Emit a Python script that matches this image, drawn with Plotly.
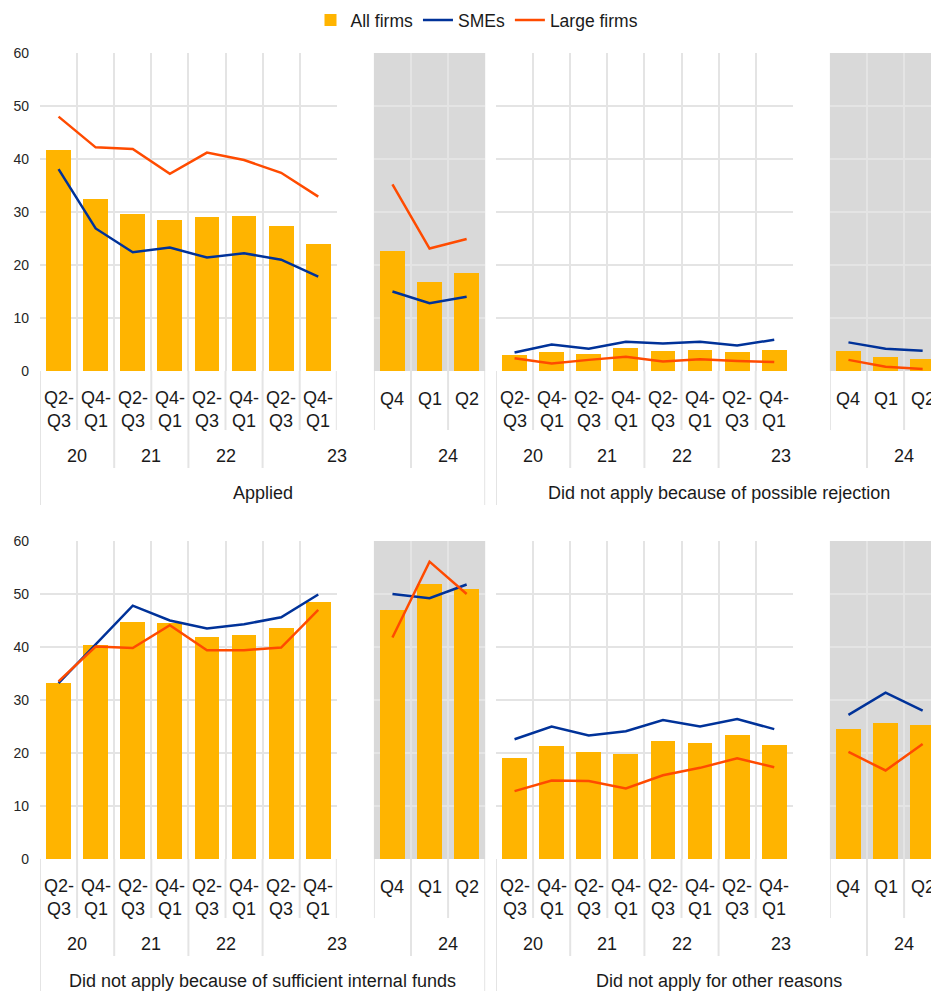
import plotly.graph_objects as go

# ---------------- data ----------------
quarters_left = ["Q2-<br>Q3", "Q4-<br>Q1", "Q2-<br>Q3", "Q4-<br>Q1",
                 "Q2-<br>Q3", "Q4-<br>Q1", "Q2-<br>Q3", "Q4-<br>Q1"]
quarters_right = ["Q4", "Q1", "Q2"]
years_left = ["20", "21", "22", "23"]
year_right = "24"
panel_titles = ["Applied", "Did not apply because of possible rejection",
                "Did not apply because of sufficient internal funds",
                "Did not apply for other reasons"]
series_names = ["All firms", "SMEs", "Large firms"]

applied_all_left = [41.7, 32.4, 29.6, 28.5, 29.0, 29.2, 27.3, 24.0]
applied_all_right = [22.7, 16.8, 18.5]
applied_sme_left = [38.1, 26.9, 22.4, 23.3, 21.4, 22.2, 21.0, 17.8]
applied_sme_right = [15.0, 12.8, 14.0]
applied_large_left = [48.0, 42.2, 41.9, 37.2, 41.2, 39.8, 37.4, 32.9]
applied_large_right = [35.2, 23.1, 24.9]

reject_all_left = [3.0, 3.5, 3.3, 4.3, 3.7, 4.0, 3.5, 4.0]
reject_all_right = [3.8, 2.7, 2.2]
reject_sme_left = [3.5, 5.0, 4.2, 5.5, 5.2, 5.5, 4.8, 5.9]
reject_sme_right = [5.4, 4.2, 3.8]
reject_large_left = [2.4, 1.4, 2.1, 2.7, 1.8, 2.2, 1.9, 1.7]
reject_large_right = [2.1, 0.8, 0.4]

funds_all_left = [33.3, 40.4, 44.8, 44.5, 41.8, 42.3, 43.5, 48.4]
funds_all_right = [46.9, 51.8, 51.0]
funds_sme_left = [33.2, 40.6, 47.8, 45.0, 43.5, 44.3, 45.6, 49.9]
funds_sme_right = [50.0, 49.2, 51.8]
funds_large_left = [33.5, 40.1, 39.8, 44.1, 39.4, 39.4, 39.9, 47.0]
funds_large_right = [41.8, 56.1, 50.0]

other_all_left = [19.0, 21.3, 20.1, 19.8, 22.2, 21.9, 23.4, 21.5]
other_all_right = [24.5, 25.6, 25.3]
other_sme_left = [22.6, 25.0, 23.3, 24.1, 26.2, 25.0, 26.4, 24.5]
other_sme_right = [27.2, 31.4, 28.0]
other_large_left = [12.8, 14.8, 14.7, 13.3, 15.8, 17.2, 19.0, 17.3]
other_large_right = [20.2, 16.7, 21.7]

y_ticks = [0, 10, 20, 30, 40, 50, 60]

panels = [
    (applied_all_left, applied_sme_left, applied_large_left,
     applied_all_right, applied_sme_right, applied_large_right),
    (reject_all_left, reject_sme_left, reject_large_left,
     reject_all_right, reject_sme_right, reject_large_right),
    (funds_all_left, funds_sme_left, funds_large_left,
     funds_all_right, funds_sme_right, funds_large_right),
    (other_all_left, other_sme_left, other_large_left,
     other_all_right, other_sme_right, other_large_right),
]

# ---------------- style / layout ----------------
W, H = 931, 991
CW = 37.1                     # category width in px
COL_X0 = [40, 496]
ROW_ZERO = [371, 859]
ROW_TOP = [53, 541]
C_BAR = "#FFB400"
C_SME = "#003299"
C_LARGE = "#FF4B00"
C_GRID = "#E4E4E4"
C_SHADE = "#D9D9D9"
FONT = "Arial, Liberation Sans, sans-serif"
TXT = "#1a1a1a"


def px(x):
    return x / W


def py(y):
    return 1 - y / H


fig = go.Figure()
layout = {}
shapes = []
annotations = []
lab_font = dict(size=18, color=TXT, family=FONT)

for p, data in enumerate(panels):
    col, row = p % 2, p // 2
    x0 = COL_X0[col]
    zero, top = ROW_ZERO[row], ROW_TOP[row]
    for s in range(2):
        n = p * 2 + s + 1
        xa = "x" if n == 1 else f"x{n}"
        ya = "y" if n == 1 else f"y{n}"
        xkey = "xaxis" if n == 1 else f"xaxis{n}"
        ykey = "yaxis" if n == 1 else f"yaxis{n}"
        if s == 0:
            ncat = 8
            left = x0
            right = x0 + 8 * CW
            cats = list(range(8))
            vals = data[0:3]
        else:
            ncat = 3
            left = x0 + 9 * CW
            right = min(x0 + 12 * CW, W)
            cats = list(range(3))
            vals = data[3:6]
        rng = [-0.5, -0.5 + (right - left) / CW]
        layout[xkey] = dict(
            domain=[px(left), min(px(right), 1.0)], range=rng, anchor=ya,
            tickmode="array", tickvals=[i - 0.5 for i in range(ncat + 1)],
            showticklabels=False, ticks="", showgrid=True, gridcolor=C_GRID,
            gridwidth=2, zeroline=False, showline=False, fixedrange=True,
            automargin=False,
        )
        layout[ykey] = dict(
            domain=[py(zero), py(top)], range=[0, 60], anchor=xa,
            tickvals=y_ticks, showticklabels=(col == 0 and s == 0),
            ticks="", showgrid=True, gridcolor=C_GRID, gridwidth=2,
            zeroline=False, showline=False, ticklabelstandoff=10,
            tickfont=dict(size=14, color="#262626", family=FONT),
            fixedrange=True, automargin=False,
        )
        show = (n == 1)
        fig.add_trace(go.Bar(x=cats, y=vals[0], xaxis=xa, yaxis=ya,
                             marker=dict(color=C_BAR, line=dict(width=0)),
                             width=0.67, name=series_names[0],
                             showlegend=show, legendgroup="a"))
        fig.add_trace(go.Scatter(x=cats, y=vals[1], xaxis=xa, yaxis=ya,
                                 mode="lines", line=dict(color=C_SME, width=2.5),
                                 name=series_names[1], showlegend=show,
                                 legendgroup="b"))
        fig.add_trace(go.Scatter(x=cats, y=vals[2], xaxis=xa, yaxis=ya,
                                 mode="lines", line=dict(color=C_LARGE, width=2.5),
                                 name=series_names[2], showlegend=show,
                                 legendgroup="c"))
        # shaded background for the recent quarters
        if s == 1:
            shapes.append(dict(type="rect", xref=f"{xa} domain", yref=f"{ya} domain",
                               x0=0, x1=1, y0=0, y1=1, fillcolor=C_SHADE,
                               line=dict(width=0), layer="below"))
        # separator lines below axis
        qlen, ylen, plen = 59, 97, 134
        if s == 0:
            bounds = [(-0.5, plen)] + [(b - 0.5, ylen if b in (2, 4, 6) else qlen)
                                       for b in range(1, 9)]
        else:
            bounds = [(-0.5, qlen), (0.5, ylen), (1.5, qlen), (2.5, plen)]
        for bx, ln in bounds:
            if bx > rng[1]:
                continue
            shapes.append(dict(type="line", xref=xa, yref="paper", x0=bx, x1=bx,
                               y0=py(zero), y1=py(zero + ln),
                               line=dict(color=C_GRID, width=2), layer="below"))
        # quarter labels
        qlabels = quarters_left if s == 0 else quarters_right
        for i, lab in enumerate(qlabels):
            yy = py(zero + 38) if s == 0 else py(zero + 28)
            annotations.append(dict(xref=xa, yref="paper", x=i, y=yy,
                                    text=lab, showarrow=False, yanchor="middle",
                                    font=lab_font))
        # year labels and panel titles
        if s == 0:
            for k, yl in enumerate(years_left):
                if k < 3:
                    annotations.append(dict(xref=xa, yref="paper", x=[0.5, 2.5, 4.5][k],
                                            y=py(zero + 85), text=yl, showarrow=False,
                                            yanchor="middle", font=lab_font))
                else:
                    annotations.append(dict(xref="paper", yref="paper",
                                            x=px(x0 + 8 * CW), y=py(zero + 85),
                                            text=yl, showarrow=False,
                                            yanchor="middle", font=lab_font))
            annotations.append(dict(xref=xa, yref="paper", x=5.5, y=py(zero + 122),
                                    text=panel_titles[p], showarrow=False,
                                    yanchor="middle", font=lab_font))
        else:
            annotations.append(dict(xref=xa, yref="paper", x=1.5, y=py(zero + 85),
                                    text=year_right, showarrow=False, yanchor="middle",
                                    font=lab_font))

layout.update(dict(
    template="none",
    width=W, height=H,
    margin=dict(l=0, r=0, t=0, b=0, pad=0, autoexpand=False),
    paper_bgcolor="white", plot_bgcolor="rgba(0,0,0,0)",
    bargap=0, barmode="group",
    font=dict(family=FONT, color=TXT),
    showlegend=True,
    legend=dict(orientation="h", x=px(477), xanchor="center", y=py(20),
                yanchor="middle", font=dict(size=17.5, color=TXT, family=FONT),
                itemwidth=30, traceorder="normal", bgcolor="rgba(0,0,0,0)"),
    shapes=shapes, annotations=annotations,
))
fig.update_layout(**layout)
# remove the browser's default 8px body margin so the figure fills the window
fig.write_html("out.html",
               config={"displayModeBar": False},
               post_script="document.body.style.margin='0';"
                           "document.body.style.overflow='hidden';")
